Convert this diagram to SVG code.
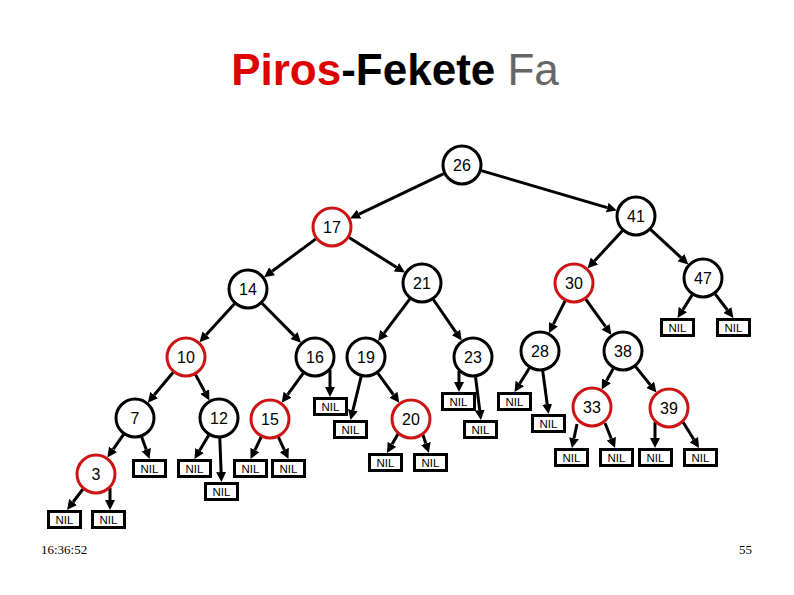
<svg xmlns="http://www.w3.org/2000/svg" width="794" height="595" viewBox="0 0 794 595">
<defs>
<marker id="ah" markerUnits="userSpaceOnUse" markerWidth="10" markerHeight="10" viewBox="0 0 10 10" refX="0" refY="5" orient="auto">
<path d="M0,0 L10,5 L0,10 z" fill="#000"/>
</marker>
</defs>
<style>
.edge line{stroke:#000;stroke-width:3;marker-end:url(#ah)}
.node circle{fill:#fff;stroke-width:3}
.blk circle{stroke:#000}
.red circle{stroke:#cc1414}
.node text{font-family:"Liberation Sans",Arial,sans-serif;font-size:16px;text-anchor:middle;fill:#000}
.nil rect{fill:#fff;stroke:#000;stroke-width:3}
.nil text{font-family:"Liberation Sans",Arial,sans-serif;font-size:11.5px;text-anchor:middle;fill:#000}
.title{font-family:"Liberation Sans",Arial,sans-serif;font-size:44px;text-anchor:middle}
.foot{font-family:"Liberation Serif","Times New Roman",serif;font-size:13px;fill:#000}
</style>
<rect width="794" height="595" fill="#fff"/>
<text class="title" x="395" y="85"><tspan fill="#e00000" font-weight="bold">Piros</tspan><tspan fill="#000" font-weight="bold">-Fekete</tspan><tspan fill="#666666"> Fa</tspan></text>
<g id="connectors" class="edge">
<line x1="443.9" y1="173.6" x2="359.1" y2="214.1"/>
<line x1="481.2" y1="170.6" x2="607.2" y2="207.6"/>
<line x1="315.9" y1="238.9" x2="272.1" y2="271.2"/>
<line x1="349.0" y1="237.6" x2="396.5" y2="267.2"/>
<line x1="622.4" y1="230.7" x2="594.4" y2="261.0"/>
<line x1="650.7" y1="229.6" x2="681.0" y2="257.6"/>
<line x1="234.5" y1="303.8" x2="206.2" y2="334.8"/>
<line x1="262.0" y1="303.2" x2="294.0" y2="335.6"/>
<line x1="409.9" y1="298.9" x2="384.1" y2="333.1"/>
<line x1="433.3" y1="299.5" x2="456.0" y2="332.3"/>
<line x1="565.1" y1="300.9" x2="553.4" y2="324.2"/>
<line x1="585.7" y1="299.2" x2="605.5" y2="326.7"/>
<line x1="692.2" y1="294.9" x2="682.9" y2="309.6"/>
<line x1="715.1" y1="293.9" x2="727.4" y2="310.0"/>
<line x1="173.2" y1="372.3" x2="154.2" y2="395.0"/>
<line x1="195.5" y1="374.6" x2="204.7" y2="391.6"/>
<line x1="303.3" y1="373.2" x2="287.6" y2="394.7"/>
<line x1="330" y1="370" x2="330" y2="387"/>
<line x1="361.2" y1="376.4" x2="352.9" y2="410.3"/>
<line x1="377.8" y1="373.2" x2="393.4" y2="394.7"/>
<line x1="459" y1="371" x2="459" y2="382"/>
<line x1="475.5" y1="376.8" x2="479.7" y2="410.1"/>
<line x1="529.4" y1="368.0" x2="519.8" y2="383.5"/>
<line x1="542.7" y1="370.8" x2="547.2" y2="404.1"/>
<line x1="613.3" y1="368.5" x2="606.5" y2="380.8"/>
<line x1="635.6" y1="366.6" x2="650.2" y2="384.7"/>
<line x1="123.6" y1="434.4" x2="113.1" y2="449.4"/>
<line x1="141.7" y1="436.9" x2="146.2" y2="449.6"/>
<line x1="208.7" y1="435.2" x2="199.6" y2="450.4"/>
<line x1="219.8" y1="438.0" x2="221.1" y2="472.0"/>
<line x1="261.2" y1="437.0" x2="254.9" y2="450.0"/>
<line x1="278.4" y1="437.2" x2="284.3" y2="449.9"/>
<line x1="398" y1="434" x2="392.0" y2="444.3"/>
<line x1="423" y1="435" x2="425.8" y2="443.5"/>
<line x1="577" y1="424" x2="574.0" y2="438.2"/>
<line x1="605" y1="423" x2="611.3" y2="438.7"/>
<line x1="655" y1="422" x2="655" y2="438"/>
<line x1="683" y1="422" x2="693.8" y2="439.5"/>
<line x1="83" y1="489" x2="73.1" y2="502.0"/>
<line x1="110" y1="488" x2="110" y2="500"/>
</g>
<g id="n26" class="node blk"><circle cx="462" cy="165" r="19"/><text x="462" y="171">26</text></g>
<g id="n41" class="node blk"><circle cx="636" cy="216" r="19"/><text x="636" y="222">41</text></g>
<g id="n17" class="node red"><circle cx="332" cy="227" r="19"/><text x="332" y="233">17</text></g>
<g id="n14" class="node blk"><circle cx="248" cy="289" r="19"/><text x="248" y="295">14</text></g>
<g id="n21" class="node blk"><circle cx="422" cy="283" r="19"/><text x="422" y="289">21</text></g>
<g id="n30" class="node red"><circle cx="574" cy="283" r="19"/><text x="574" y="289">30</text></g>
<g id="n47" class="node blk"><circle cx="703" cy="278" r="19"/><text x="703" y="284">47</text></g>
<g id="n10" class="node red"><circle cx="186" cy="357" r="19"/><text x="186" y="363">10</text></g>
<g id="n16" class="node blk"><circle cx="315" cy="357" r="19"/><text x="315" y="363">16</text></g>
<g id="n19" class="node blk"><circle cx="366" cy="357" r="19"/><text x="366" y="363">19</text></g>
<g id="n23" class="node blk"><circle cx="473" cy="357" r="19"/><text x="473" y="363">23</text></g>
<g id="n28" class="node blk"><circle cx="540" cy="351" r="19"/><text x="540" y="357">28</text></g>
<g id="n38" class="node blk"><circle cx="623" cy="351" r="19"/><text x="623" y="357">38</text></g>
<g id="n7" class="node blk"><circle cx="135" cy="418" r="19"/><text x="135" y="424">7</text></g>
<g id="n12" class="node blk"><circle cx="219" cy="418" r="19"/><text x="219" y="424">12</text></g>
<g id="n15" class="node red"><circle cx="270" cy="419" r="19"/><text x="270" y="425">15</text></g>
<g id="n20" class="node red"><circle cx="411" cy="419" r="19"/><text x="411" y="425">20</text></g>
<g id="n33" class="node red"><circle cx="592" cy="407" r="19"/><text x="592" y="413">33</text></g>
<g id="n39" class="node red"><circle cx="669" cy="408" r="19"/><text x="669" y="414">39</text></g>
<g id="n3" class="node red"><circle cx="96" cy="474" r="19"/><text x="96" y="480">3</text></g>
<g id="nil47a" class="nil"><rect x="661.5" y="319.5" width="32" height="16"/><text x="677.5" y="331.5">NIL</text></g>
<g id="nil47b" class="nil"><rect x="717.5" y="319.5" width="32" height="16"/><text x="733.5" y="331.5">NIL</text></g>
<g id="nil16" class="nil"><rect x="314.5" y="398.5" width="32" height="16"/><text x="330.5" y="410.5">NIL</text></g>
<g id="nil19" class="nil"><rect x="334.5" y="421.5" width="32" height="16"/><text x="350.5" y="433.5">NIL</text></g>
<g id="nil23a" class="nil"><rect x="442.5" y="393.5" width="32" height="16"/><text x="458.5" y="405.5">NIL</text></g>
<g id="nil23b" class="nil"><rect x="464.5" y="421.5" width="32" height="16"/><text x="480.5" y="433.5">NIL</text></g>
<g id="nil28a" class="nil"><rect x="498.5" y="393.5" width="32" height="16"/><text x="514.5" y="405.5">NIL</text></g>
<g id="nil28b" class="nil"><rect x="532.5" y="415.5" width="32" height="16"/><text x="548.5" y="427.5">NIL</text></g>
<g id="nil7" class="nil"><rect x="133.5" y="460.5" width="32" height="16"/><text x="149.5" y="472.5">NIL</text></g>
<g id="nil12a" class="nil"><rect x="178.5" y="460.5" width="32" height="16"/><text x="194.5" y="472.5">NIL</text></g>
<g id="nil12b" class="nil"><rect x="205.5" y="483.5" width="32" height="16"/><text x="221.5" y="495.5">NIL</text></g>
<g id="nil15a" class="nil"><rect x="234.5" y="460.5" width="32" height="16"/><text x="250.5" y="472.5">NIL</text></g>
<g id="nil15b" class="nil"><rect x="272.5" y="460.5" width="32" height="16"/><text x="288.5" y="472.5">NIL</text></g>
<g id="nil20a" class="nil"><rect x="369.5" y="454.5" width="32" height="16"/><text x="385.5" y="466.5">NIL</text></g>
<g id="nil20b" class="nil"><rect x="414.5" y="454.5" width="32" height="16"/><text x="430.5" y="466.5">NIL</text></g>
<g id="nil33a" class="nil"><rect x="555.5" y="449.5" width="32" height="16"/><text x="571.5" y="461.5">NIL</text></g>
<g id="nil33b" class="nil"><rect x="600.5" y="449.5" width="32" height="16"/><text x="616.5" y="461.5">NIL</text></g>
<g id="nil39a" class="nil"><rect x="639.5" y="449.5" width="32" height="16"/><text x="655.5" y="461.5">NIL</text></g>
<g id="nil39b" class="nil"><rect x="684.5" y="449.5" width="32" height="16"/><text x="700.5" y="461.5">NIL</text></g>
<g id="nil3a" class="nil"><rect x="48.5" y="511.5" width="32" height="16"/><text x="64.5" y="523.5">NIL</text></g>
<g id="nil3b" class="nil"><rect x="92.5" y="511.5" width="32" height="16"/><text x="108.5" y="523.5">NIL</text></g>
<text class="foot" x="41" y="554">16:36:52</text>
<text class="foot" x="752" y="554" text-anchor="end">55</text>
</svg>
